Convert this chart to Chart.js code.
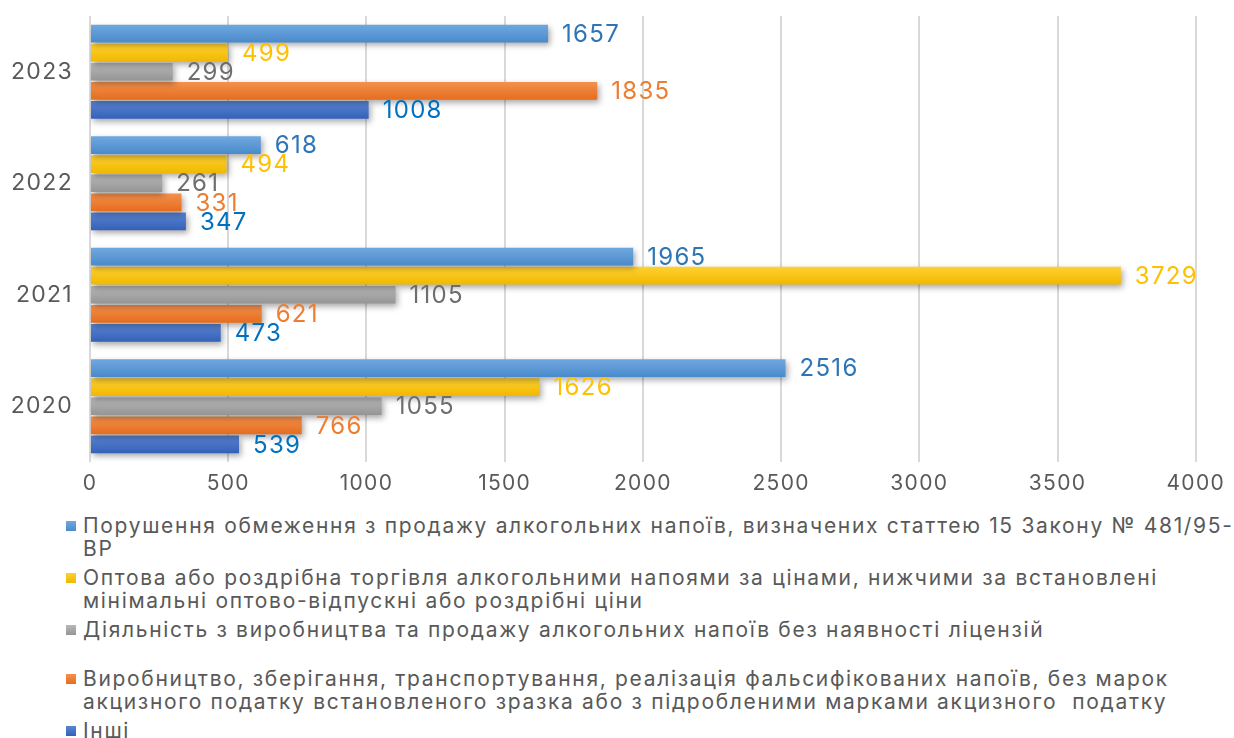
<!DOCTYPE html>
<html>
<head>
<meta charset="utf-8">
<script src="https://cdn.jsdelivr.net/npm/chart.js@4.4.1/dist/chart.umd.min.js"></script>
<style>
	body { margin: 0; background: #fff; font-family: Inter, sans-serif; }
	#wrap { position: relative; width: 1234px; height: 738px; }
	#chart { display: block; }
	#legend { position: absolute; left: 66px; top: 514px; width: 1168px; color: #595959; font-size: 21px; line-height: 23px; letter-spacing: 1.68px; }
	.item { display: flex; align-items: flex-start; margin-bottom: 6px; }
	.item.gap { margin-bottom: 26px; }
	.box { flex: none; width: 10px; height: 10px; margin: 7px 7px 0 0; }
</style>
</head>
<body>
<div id="wrap">
	<canvas id="chart" width="1234" height="500"></canvas>
	<div id="legend"></div>
</div>
<script>
const years = ['2020', '2021', '2022', '2023'];

const seriesNames = [
	'Порушення обмеження з продажу алкогольних напоїв, визначених статтею 15 Закону № 481/95-<br>ВР',
	'Оптова або роздрібна торгівля алкогольними напоями за цінами, нижчими за встановлені<br>мінімальні оптово-відпускні або роздрібні ціни',
	'Діяльність з виробництва та продажу алкогольних напоїв без наявності ліцензій',
	'Виробництво, зберігання, транспортування, реалізація фальсифікованих напоїв, без марок<br>акцизного податку встановленого зразка або з підробленими марками акцизного&nbsp; податку',
	'Інші'
];

// values per year, 2020..2023
const restriction = [2516, 1965, 618, 1657];
const minPrice    = [1626, 3729, 494, 499];
const noLicense   = [1055, 1105, 261, 299];
const counterfeit = [766, 621, 331, 1835];
const other       = [539, 473, 347, 1008];

const xTicks = [0, 500, 1000, 1500, 2000, 2500, 3000, 3500, 4000];

// top / bottom colours of each bar gradient, and the value label colour
const barColors = [
	['#6FA8DF', '#4A8ACB'],
	['#FFD030', '#F0B800'],
	['#B8B8B8', '#959595'],
	['#F4914D', '#E56D1E'],
	['#5B84D2', '#3461B8']
];
const labelColors = ['#2E75B6', '#FFC000', '#6E6E6E', '#ED7D31', '#0070C0'];

// years are listed from the top of the chart down
const order = [...years].reverse();
const pick = arr => order.map(y => arr[years.indexOf(y)]);
const seriesValues = [restriction, minPrice, noLicense, counterfeit, other];

// the canvas state is reset whenever the canvas is sized, so spacing is set again each pass
const spacing = chart => { chart.ctx.letterSpacing = '1.3px'; };

const barLook = {
	id: 'barLook',
	beforeUpdate: spacing,
	beforeLayout: spacing,
	beforeDraw: spacing,
	beforeDatasetDraw(chart, args) {
		const ctx = chart.ctx;
		const colors = barColors[args.index];
		args.meta.data.forEach(bar => {
			const top = bar.y - bar.height / 2;
			const g = ctx.createLinearGradient(0, top, 0, top + bar.height);
			g.addColorStop(0, colors[0]);
			g.addColorStop(1, colors[1]);
			bar.options = Object.assign({}, bar.options, { backgroundColor: g });
		});
		ctx.save();
		ctx.shadowColor = 'rgba(0,0,0,0.35)';
		ctx.shadowBlur = 6;
		ctx.shadowOffsetX = 2;
		ctx.shadowOffsetY = 3;
	},
	afterDatasetDraw(chart) {
		chart.ctx.restore();
	},
	afterDatasetsDraw(chart) {
		const ctx = chart.ctx;
		ctx.save();
		ctx.font = '24px Inter';
		ctx.textBaseline = 'middle';
		ctx.textAlign = 'left';
		chart.data.datasets.forEach((ds, i) => {
			ctx.fillStyle = labelColors[i];
			chart.getDatasetMeta(i).data.forEach((bar, j) => {
				ctx.fillText(String(ds.data[j]), bar.x + 14, bar.y + 1);
			});
		});
		ctx.restore();
	}
};

const data = {
	labels: order,
	datasets: seriesValues.map((vals, i) => ({
		label: seriesNames[i],
		data: pick(vals),
		backgroundColor: barColors[i][1],
		borderWidth: 0,
		categoryPercentage: 0.855,
		barPercentage: 0.93
	}))
};

const config = {
	type: 'bar',
	data: data,
	plugins: [barLook],
	options: {
		indexAxis: 'y',
		responsive: false,
		animation: false,
		layout: { padding: { top: 16, right: 34, left: 0, bottom: 0 } },
		plugins: {
			legend: { display: false },
			tooltip: { enabled: false }
		},
		scales: {
			x: {
				min: 0,
				max: 4000,
				afterBuildTicks: s => { s.ticks = xTicks.map(v => ({ value: v })); },
				afterFit: s => { s.height = 38; },
				border: { display: false },
				grid: { color: '#D9D9D9', lineWidth: 2, drawTicks: false },
				ticks: {
					color: '#595959',
					font: { family: 'Inter', size: 21 },
					padding: 9,
					callback: v => String(v)
				}
			},
			y: {
				afterFit: s => {
					s.width = 90;
					s.paddingTop = 0;
					s.paddingBottom = 0;
				},
				border: { display: false },
				grid: { display: false },
				ticks: { color: '#595959', font: { family: 'Inter', size: 23 }, padding: 9 }
			}
		}
	}
};

new Chart(document.getElementById('chart'), config);

const legend = document.getElementById('legend');
seriesNames.forEach((name, i) => {
	const item = document.createElement('div');
	item.className = 'item' + (i === 2 ? ' gap' : '');
	item.innerHTML = '<span class="box" style="background:linear-gradient(' + barColors[i][0] + ',' + barColors[i][1] + ')"></span><span>' + name + '</span>';
	legend.appendChild(item);
});
</script>
</body>
</html>
